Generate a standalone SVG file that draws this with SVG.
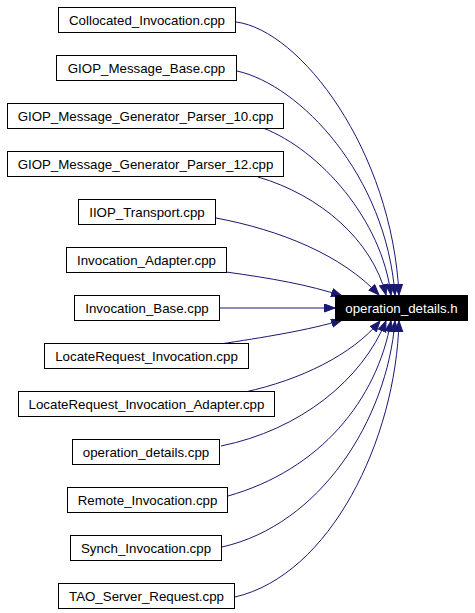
<svg xmlns="http://www.w3.org/2000/svg" width="475" height="613" viewBox="0 0 475 613">
<style>
  .box { fill: #ffffff; stroke: #000000; stroke-width: 1; }
  .tgt { fill: #000000; stroke: #000000; stroke-width: 1; }
  .lbl { font-family: "Liberation Sans", Arial, Helvetica, sans-serif; font-size: 13.3px; fill: #000000; text-anchor: middle; }
  .tlbl { font-family: "Liberation Sans", Arial, Helvetica, sans-serif; font-size: 13.3px; fill: #ffffff; text-anchor: middle; }
  .edge { fill: none; stroke: #191970; stroke-width: 1; marker-end: url(#arr); }
</style>
<defs>
  <marker id="arr" markerUnits="userSpaceOnUse" markerWidth="12" markerHeight="10" refX="11" refY="4.5" orient="auto">
    <path d="M0.5,0.5 L11,4.5 L0.5,8.5 z" fill="#191970" stroke="#191970" stroke-width="1"/>
  </marker>
</defs>
<rect width="475" height="613" fill="#ffffff"/>
<g id="connectors">
  <path class="edge" d="M236,22 C300,30 392,150 399,295"/>
  <path class="edge" d="M237,71 C300,85 386,175 395,295"/>
  <path class="edge" d="M263,128 C320,150 382,220 391,295"/>
  <path class="edge" d="M258,177 C320,195 372,240 386,295"/>
  <path class="edge" d="M216,218 C280,230 342,255 379,295"/>
  <path class="edge" d="M226,272 C270,278 310,285 342,296"/>
  <path class="edge" d="M220,308 L335,308"/>
  <path class="edge" d="M220,344 C260,338 310,330 342,320"/>
  <path class="edge" d="M245,392 C300,380 352,355 380,321"/>
  <path class="edge" d="M221,446 C300,430 362,380 386,321"/>
  <path class="edge" d="M228,496 C320,470 377,400 391,321"/>
  <path class="edge" d="M222,547 C320,525 387,420 395,321"/>
  <path class="edge" d="M235,597 C330,575 396,440 399,321"/>
</g>
<g id="target">
  <rect class="tgt" x="335.5" y="295.5" width="132" height="25"/>
  <text class="tlbl" x="401.5" y="312.5">operation_details.h</text>
</g>
<g id="n1"><rect class="box" x="58.5" y="7.5" width="177" height="25"/><text class="lbl" x="147" y="24.5">Collocated_Invocation.cpp</text></g>
<g id="n2"><rect class="box" x="56.5" y="55.5" width="180" height="25"/><text class="lbl" x="146.5" y="72.5">GIOP_Message_Base.cpp</text></g>
<g id="n3"><rect class="box" x="7.5" y="103.5" width="276" height="25"/><text class="lbl" x="145.5" y="120.5">GIOP_Message_Generator_Parser_10.cpp</text></g>
<g id="n4"><rect class="box" x="7.5" y="151.5" width="276" height="25"/><text class="lbl" x="145.5" y="168.5">GIOP_Message_Generator_Parser_12.cpp</text></g>
<g id="n5"><rect class="box" x="78.5" y="199.5" width="137" height="25"/><text class="lbl" x="147" y="216.5">IIOP_Transport.cpp</text></g>
<g id="n6"><rect class="box" x="66.5" y="247.5" width="160" height="25"/><text class="lbl" x="146.5" y="264.5">Invocation_Adapter.cpp</text></g>
<g id="n7"><rect class="box" x="74.5" y="295.5" width="145" height="25"/><text class="lbl" x="147" y="312.5">Invocation_Base.cpp</text></g>
<g id="n8"><rect class="box" x="44.5" y="343.5" width="204" height="25"/><text class="lbl" x="146.5" y="360.5">LocateRequest_Invocation.cpp</text></g>
<g id="n9"><rect class="box" x="18.5" y="391.5" width="256" height="25"/><text class="lbl" x="146.5" y="408.5">LocateRequest_Invocation_Adapter.cpp</text></g>
<g id="n10"><rect class="box" x="72.5" y="439.5" width="147" height="25"/><text class="lbl" x="146" y="456.5">operation_details.cpp</text></g>
<g id="n11"><rect class="box" x="67.5" y="487.5" width="160" height="25"/><text class="lbl" x="147.5" y="504.5">Remote_Invocation.cpp</text></g>
<g id="n12"><rect class="box" x="70.5" y="535.5" width="151" height="25"/><text class="lbl" x="146" y="552.5">Synch_Invocation.cpp</text></g>
<g id="n13"><rect class="box" x="58.5" y="583.5" width="176" height="25"/><text class="lbl" x="146.5" y="600.5">TAO_Server_Request.cpp</text></g>
</svg>
